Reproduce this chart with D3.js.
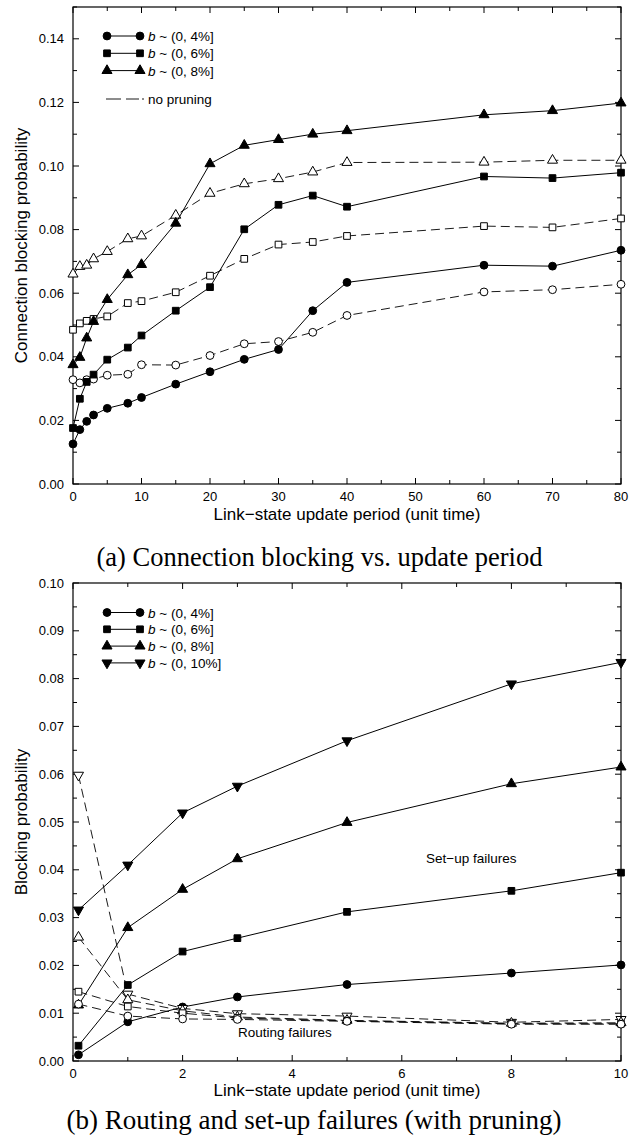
<!DOCTYPE html>
<html lang="en">
<head>
<meta charset="UTF-8">
<title>Blocking probability vs. update period</title>
<script src="https://cdnjs.cloudflare.com/ajax/libs/d3/7.8.5/d3.min.js"></script>
<style>
    body { margin: 0; background: #fff; }
    svg { display: block; }
    .tick-label, .axis-title, .legend-text, .note { font-family: "Liberation Sans", Arial, Helvetica, sans-serif; fill: #000; }
    .caption { font-family: "Liberation Serif", "Times New Roman", Times, serif; fill: #000; }
</style>
</head>
<body>
<svg id="chart" width="632" height="1146"></svg>
<script>
// ---- panel (a): connection blocking vs. update period ----
const periodsA = [0, 1, 2, 3, 5, 8, 10, 15, 20, 25, 30, 35, 40, 60, 70, 80];
const prune4 = [0.0126, 0.0171, 0.0197, 0.0217, 0.0238, 0.0254, 0.0272, 0.0314, 0.0353, 0.0392, 0.0423, 0.0545, 0.0634, 0.0688, 0.0685, 0.0735];
const prune6 = [0.0176, 0.0268, 0.0321, 0.0344, 0.0391, 0.0429, 0.0467, 0.0545, 0.0619, 0.0801, 0.0878, 0.0907, 0.0872, 0.0967, 0.0962, 0.0979];
const prune8 = [0.0375, 0.0398, 0.0459, 0.0511, 0.0580, 0.0658, 0.0690, 0.0820, 0.1007, 0.1065, 0.1083, 0.1100, 0.1111, 0.1161, 0.1174, 0.1198];
const noPrune4 = [0.0328, 0.0318, 0.0328, 0.0330, 0.0342, 0.0345, 0.0375, 0.0374, 0.0404, 0.0441, 0.0448, 0.0477, 0.0530, 0.0604, 0.0611, 0.0628];
const noPrune6 = [0.0485, 0.0505, 0.0513, 0.0519, 0.0527, 0.0569, 0.0575, 0.0603, 0.0655, 0.0708, 0.0753, 0.0761, 0.0780, 0.0811, 0.0807, 0.0835];
const noPrune8 = [0.0660, 0.0684, 0.0688, 0.0708, 0.0731, 0.0771, 0.0780, 0.0845, 0.0914, 0.0944, 0.0960, 0.0981, 0.1011, 0.1012, 0.1018, 0.1018];
const legendA = ["4%", "6%", "8%"];

// ---- panel (b): routing and set-up failures ----
const periodsB = [0.1, 1, 2, 3, 5, 8, 10];
const setup4 = [0.0013, 0.0082, 0.0113, 0.0134, 0.0160, 0.0184, 0.0201];
const setup6 = [0.0032, 0.0159, 0.0229, 0.0257, 0.0312, 0.0356, 0.0394];
const setup8 = [0.0117, 0.0279, 0.0359, 0.0423, 0.0499, 0.0580, 0.0615];
const setup10 = [0.0316, 0.0410, 0.0519, 0.0575, 0.0670, 0.0789, 0.0834];
const route4 = [0.0119, 0.0094, 0.0088, 0.0087, 0.0083, 0.0077, 0.0077];
const route6 = [0.0145, 0.0114, 0.0100, 0.0090, 0.0084, 0.0078, 0.0078];
const route8 = [0.0259, 0.0128, 0.0105, 0.0092, 0.0085, 0.0079, 0.0080];
const route10 = [0.0598, 0.0140, 0.0110, 0.0099, 0.0094, 0.0081, 0.0087];
const legendB = ["4%", "6%", "8%", "10%"];

const svg = d3.select("#chart");

// marker shapes
const shapes = {
    circle: { type: d3.symbolCircle, size: 48, rot: 0 },
    square: { type: d3.symbolSquare, size: 45, rot: 0 },
    up: { type: d3.symbolTriangle, size: 44, rot: 0 },
    down: { type: d3.symbolTriangle, size: 44, rot: 180 }
};

function marker(g, shape, x, y, filled) {
    const s = shapes[shape];
    g.append("path")
        .attr("d", d3.symbol().type(s.type).size(s.size)())
        .attr("transform", `translate(${x},${y}) rotate(${s.rot})`)
        .attr("fill", filled ? "#000" : "#fff")
        .attr("stroke", "#000")
        .attr("stroke-width", 1);
}

function drawSeries(g, x, y, xs, ys, shape, filled, dashed) {
    const pts = xs.map((v, i) => [v, ys[i]]);
    const line = d3.line().x(d => x(d[0])).y(d => y(d[1]));
    g.append("path")
        .attr("d", line(pts))
        .attr("fill", "none")
        .attr("stroke", "#000")
        .attr("stroke-width", dashed ? 0.9 : 1)
        .attr("stroke-dasharray", dashed ? "9,5" : null);
    pts.forEach(d => marker(g, shape, x(d[0]), y(d[1]), filled));
}

// frame, inward ticks on four sides, tick labels
function drawFrame(g, x, y, xMajor, xMinor, yMajor, yMinor, yFmt) {
    const [x0, x1] = x.range();
    const [y0, y1] = y.range();
    g.append("rect")
        .attr("x", x0).attr("y", y1)
        .attr("width", x1 - x0).attr("height", y0 - y1)
        .attr("fill", "none").attr("stroke", "#000").attr("stroke-width", 1.2);

    const tk = g.append("g").attr("stroke", "#000").attr("stroke-width", 1);
    xMinor.forEach(v => {
        tk.append("line").attr("x1", x(v)).attr("x2", x(v)).attr("y1", y0).attr("y2", y0 - 4);
        tk.append("line").attr("x1", x(v)).attr("x2", x(v)).attr("y1", y1).attr("y2", y1 + 4);
    });
    xMajor.forEach(v => {
        tk.append("line").attr("x1", x(v)).attr("x2", x(v)).attr("y1", y0).attr("y2", y0 - 6);
        tk.append("line").attr("x1", x(v)).attr("x2", x(v)).attr("y1", y1).attr("y2", y1 + 6);
    });
    yMinor.forEach(v => {
        tk.append("line").attr("x1", x0).attr("x2", x0 + 4).attr("y1", y(v)).attr("y2", y(v));
        tk.append("line").attr("x1", x1).attr("x2", x1 - 4).attr("y1", y(v)).attr("y2", y(v));
    });
    yMajor.forEach(v => {
        tk.append("line").attr("x1", x0).attr("x2", x0 + 6).attr("y1", y(v)).attr("y2", y(v));
        tk.append("line").attr("x1", x1).attr("x2", x1 - 6).attr("y1", y(v)).attr("y2", y(v));
    });

    g.selectAll(".xl").data(xMajor).enter().append("text")
        .attr("class", "tick-label")
        .attr("x", d => x(d)).attr("y", y0 + 17)
        .attr("text-anchor", "middle")
        .attr("font-size", 13)
        .text(d => d);
    g.selectAll(".yl").data(yMajor).enter().append("text")
        .attr("class", "tick-label")
        .attr("x", x0 - 9).attr("y", d => y(d) + 4.5)
        .attr("text-anchor", "end")
        .attr("font-size", 13)
        .text(d => d3.format(yFmt)(d));
}

function legendEntry(g, shape, y, pct) {
    g.append("line").attr("x1", 107).attr("x2", 140).attr("y1", y).attr("y2", y)
        .attr("stroke", "#000").attr("stroke-width", 1);
    marker(g, shape, 107, y, true);
    marker(g, shape, 140, y, true);
    const t = g.append("text").attr("class", "legend-text")
        .attr("x", 148).attr("y", y + 5).attr("font-size", 13.5);
    t.append("tspan").attr("font-style", "italic").text("b");
    t.append("tspan").text(` ~ (0, ${pct}]`);
}

// ================= panel (a) =================
const gA = svg.append("g");
const xA = d3.scaleLinear().domain([0, 80]).range([73, 621]);
const yA = d3.scaleLinear().domain([0, 0.15]).range([484, 7]);

drawFrame(gA, xA, yA,
    d3.range(0, 81, 10), d3.range(5, 80, 10),
    d3.range(0, 0.141, 0.02), d3.range(0.01, 0.151, 0.02), ".2f");

drawSeries(gA, xA, yA, periodsA, noPrune8, "up", false, true);
drawSeries(gA, xA, yA, periodsA, noPrune6, "square", false, true);
drawSeries(gA, xA, yA, periodsA, noPrune4, "circle", false, true);
drawSeries(gA, xA, yA, periodsA, prune8, "up", true, false);
drawSeries(gA, xA, yA, periodsA, prune6, "square", true, false);
drawSeries(gA, xA, yA, periodsA, prune4, "circle", true, false);

["circle", "square", "up"].forEach((s, i) => legendEntry(gA, s, 36 + i * 17.3, legendA[i]));
gA.append("line").attr("x1", 106).attr("x2", 144).attr("y1", 99).attr("y2", 99)
    .attr("stroke", "#000").attr("stroke-width", 0.9).attr("stroke-dasharray", "15,5,13,3,2");
gA.append("text").attr("class", "legend-text").attr("x", 148).attr("y", 104)
    .attr("font-size", 13.5).text("no pruning");

gA.append("text").attr("class", "axis-title")
    .attr("transform", `translate(27,${(484 + 7) / 2}) rotate(-90)`)
    .attr("text-anchor", "middle").attr("font-size", 17)
    .text("Connection blocking probability");
gA.append("text").attr("class", "axis-title")
    .attr("x", (73 + 621) / 2).attr("y", 520)
    .attr("text-anchor", "middle").attr("font-size", 17)
    .text("Link\u2212state update period (unit time)");
gA.append("text").attr("class", "caption")
    .attr("x", 319.5).attr("y", 566)
    .attr("text-anchor", "middle").attr("font-size", 26.5)
    .text("(a) Connection blocking vs. update period");

// ================= panel (b) =================
const gB = svg.append("g");
const xB = d3.scaleLinear().domain([0, 10]).range([73, 621]);
const yB = d3.scaleLinear().domain([0, 0.10]).range([1061, 583]);

drawFrame(gB, xB, yB,
    d3.range(0, 11, 2), d3.range(1, 10, 2),
    d3.range(0, 0.101, 0.01), d3.range(0.005, 0.1, 0.01), ".2f");

drawSeries(gB, xB, yB, periodsB, setup10, "down", true, false);
drawSeries(gB, xB, yB, periodsB, setup8, "up", true, false);
drawSeries(gB, xB, yB, periodsB, setup6, "square", true, false);
drawSeries(gB, xB, yB, periodsB, setup4, "circle", true, false);
drawSeries(gB, xB, yB, periodsB, route10, "down", false, true);
drawSeries(gB, xB, yB, periodsB, route8, "up", false, true);
drawSeries(gB, xB, yB, periodsB, route6, "square", false, true);
drawSeries(gB, xB, yB, periodsB, route4, "circle", false, true);

["circle", "square", "up", "down"].forEach((s, i) => legendEntry(gB, s, 612.5 + i * 16.8, legendB[i]));

gB.append("text").attr("class", "note").attr("x", 426).attr("y", 863)
    .attr("font-size", 13.5).text("Set\u2212up failures");
gB.append("text").attr("class", "note").attr("x", 238).attr("y", 1036.5)
    .attr("font-size", 13.5).text("Routing failures");

gB.append("text").attr("class", "axis-title")
    .attr("transform", `translate(27,${(1061 + 583) / 2}) rotate(-90)`)
    .attr("text-anchor", "middle").attr("font-size", 17)
    .text("Blocking probability");
gB.append("text").attr("class", "axis-title")
    .attr("x", (73 + 621) / 2).attr("y", 1096)
    .attr("text-anchor", "middle").attr("font-size", 17)
    .text("Link\u2212state update period (unit time)");
gB.append("text").attr("class", "caption")
    .attr("x", 314).attr("y", 1129)
    .attr("text-anchor", "middle").attr("font-size", 27)
    .text("(b) Routing and set-up failures (with pruning)");
</script>
</body>
</html>
